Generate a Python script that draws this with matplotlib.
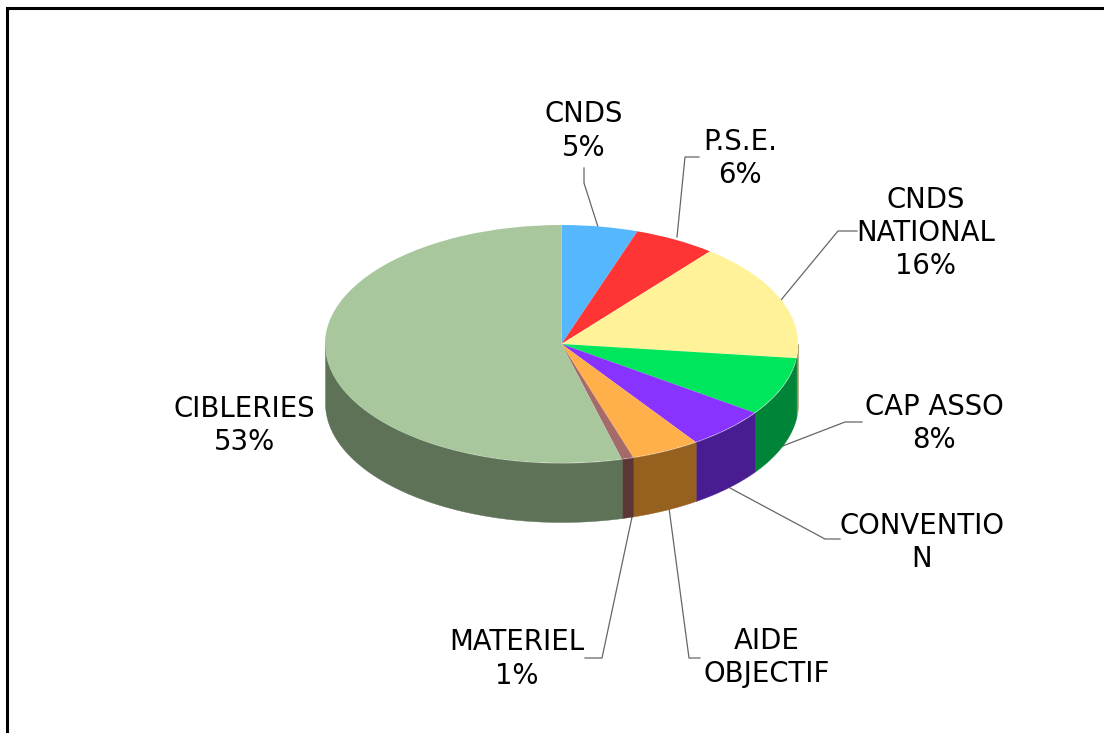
import matplotlib
matplotlib.use('Agg')
import numpy as np
import matplotlib.pyplot as plt

# slices, clockwise from the top
names = ["CNDS", "P.S.E.", "CNDS NATIONAL", "CAP ASSO", "CONVENTION", "AIDE OBJECTIF", "MATERIEL", "CIBLERIES"]
values = [5.2, 5.6, 16.1, 7.9, 5.6, 4.7, 0.8, 54.1]
top_colors = ["#55b8ff", "#ff3535", "#fff299", "#00e65c", "#8833ff", "#ffb04a", "#a56a6a", "#a9c79d"]
side_colors = ["#2f6e99", "#992020", "#99915c", "#008438", "#4a1c92", "#96611e", "#5c3535", "#5d7256"]

label_texts = ["CNDS\n5%", "P.S.E.\n6%", "CNDS\nNATIONAL\n16%", "CAP ASSO\n8%",
               "CONVENTIO\nN", "AIDE\nOBJECTIF", "MATERIEL\n1%", "CIBLERIES\n53%"]
label_pos = [(584, 131), (740, 158.5), (926, 233), (934, 423.5),
             (922, 542.5), (767, 657.5), (517, 659), (244, 425.5)]
leaders = [[(584, 168), (584, 183), (598, 227)],
           [(699, 157), (685, 157), (677, 237)],
           [(857, 231), (838, 231), (781, 300)],
           [(862, 422), (845, 422), (780, 447)],
           [(840, 539), (825, 539), (730, 488)],
           [(700, 658), (689, 658), (669, 508)],
           [(585, 658), (602, 658), (632, 517)],
           None]

W, H = 1104, 733
cx, cy, rx, ry, depth = 561.5, 344, 236.5, 119, 59

fig = plt.figure(figsize=(W / 100, H / 100), dpi=100)

# pixel axes for frame, leader lines and labels
bg = fig.add_axes([0, 0, 1, 1])
bg.set_xlim(0, W)
bg.set_ylim(H, 0)
bg.axis('off')

bg.plot([7, 7, W + 5], [H + 5, 8, 8], color='black', lw=2.2, solid_joinstyle='miter')

for line in leaders:
    if line is not None:
        bg.plot([p[0] for p in line], [p[1] for p in line], color='#666666', lw=0.9)

for txt, pos in zip(label_texts, label_pos):
    bg.text(pos[0], pos[1], txt, ha='center', va='center', fontsize=19.8,
            linespacing=1.25, color='black')

# pie axes, stretched so the circle becomes the ellipse
pad = 1.25
ax = fig.add_axes([(cx - rx * pad) / W, 1 - (cy + ry * pad) / H,
                   2 * rx * pad / W, 2 * ry * pad / H])
ax.patch.set_alpha(0)

# side wall, only the front half shows
d = depth / ry
edges = np.cumsum([0] + values) / sum(values) * 360
for i in range(len(values)):
    a0 = max(edges[i], 90)
    a1 = min(edges[i + 1], 270)
    if a1 <= a0:
        continue
    t = np.radians(np.linspace(a0, a1, 80))
    xs = np.sin(t)
    ys = np.cos(t)
    ax.fill_between(xs, ys, ys - d, color=side_colors[i], lw=0.3, clip_on=False)

ax.pie(values, colors=top_colors, startangle=90, counterclock=False, radius=1,
       wedgeprops={'linewidth': 0})
ax.set_aspect('auto')
ax.set_xlim(-pad, pad)
ax.set_ylim(-pad, pad)
ax.axis('off')

fig.savefig('out.png', dpi=100)
